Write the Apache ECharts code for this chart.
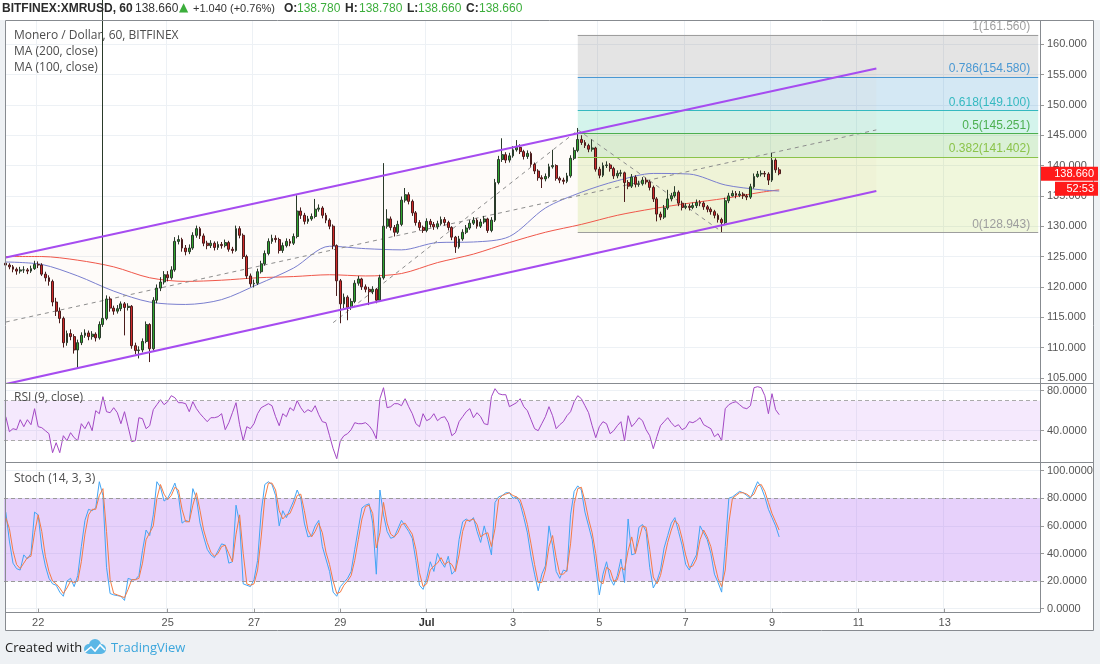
<!DOCTYPE html>
<html><head><meta charset="utf-8">
<script src="https://cdn.jsdelivr.net/npm/echarts@6/dist/echarts.min.js"></script>
<style>html,body{margin:0;padding:0;background:#eef1f4;overflow:hidden}#c{width:1100px;height:664px}</style>
</head><body><div id="c"></div>
<script>
// ---------- data ----------
const startTime = Date.UTC(2018, 5, 21, 6, 0);   // first 2h slot
const slotCount = 288;
const tickDates  = ['06-22','06-25','06-27','06-29','07-01','07-03','07-05','07-07','07-09','07-11','07-13'];
const tickLabels = ['22','25','27','29','Jul','3','5','7','9','11','13'];

const opens = [123.9,123.6,123.3,122.9,122.6,122.8,122.8,122.6,123.0,123.7,
123.6,122.1,121.5,120.9,117.5,116.0,114.8,110.8,112.3,111.8,
109.6,110.8,112.0,112.4,111.8,112.2,111.6,113.8,114.8,118.0,
116.5,116.0,116.4,117.2,116.6,116.8,110.3,109.5,109.6,111.0,
113.8,109.8,117.8,119.8,120.8,122.0,121.5,122.8,127.5,127.8,
126.4,125.8,126.4,128.5,129.6,128.4,127.2,126.8,127.2,126.5,
127.0,126.8,127.3,126.2,126.0,129.6,128.5,125.0,121.8,120.5,
120.6,122.5,123.8,125.5,127.5,128.0,127.8,126.0,126.8,127.5,
127.2,128.3,132.5,131.8,130.8,131.2,131.6,132.8,133.0,131.8,
131.0,130.0,126.8,121.0,117.2,118.3,116.6,117.6,120.6,121.3,
120.0,119.6,119.2,119.6,117.8,121.5,130.0,131.2,129.8,129.0,
130.3,134.3,135.2,134.1,132.2,130.6,129.8,129.3,130.8,130.3,
129.9,130.4,131.1,130.6,129.8,128.2,126.6,127.9,129.0,129.7,
130.5,131.0,130.0,130.7,131.2,129.3,131.0,137.2,141.0,141.8,
140.9,141.6,142.6,143.0,142.3,141.5,142.0,140.2,139.1,138.0,
137.8,138.2,139.8,140.0,137.9,137.6,137.4,138.3,141.2,142.5,
144.3,143.8,143.3,142.7,142.9,139.4,138.4,140.0,140.1,139.5,
138.3,138.7,138.8,137.2,136.6,138.1,136.9,137.0,137.6,137.3,
136.4,134.5,132.0,131.5,133.0,134.5,135.0,135.6,133.8,133.1,
133.3,133.1,133.4,133.9,133.8,133.2,132.8,132.4,131.8,131.1,
130.6,134.2,135.0,135.4,135.1,135.3,135.0,134.8,136.5,138.2,
138.6,138.7,138.6,137.6,140.9,139.3];
const closes = [123.6,123.3,122.9,122.6,122.8,122.8,122.6,123.0,123.7,123.6,
122.1,121.5,120.9,117.5,116.0,114.8,110.8,112.3,111.8,109.6,
110.8,112.0,112.4,111.8,112.2,111.6,113.8,114.8,118.0,116.5,
116.0,116.4,117.2,116.6,116.8,110.3,109.5,109.6,111.0,113.8,
109.8,117.8,119.8,120.8,122.0,121.5,122.8,127.5,127.8,126.4,
125.8,126.4,128.5,129.6,128.4,127.2,126.8,127.2,126.5,127.0,
126.8,127.3,126.2,126.0,129.6,128.5,125.0,121.8,120.5,120.6,
122.5,123.8,125.5,127.5,128.0,127.8,126.0,126.8,127.5,127.2,
128.3,132.5,131.8,130.8,131.2,131.6,132.8,133.0,131.8,131.0,
130.0,126.8,121.0,117.2,118.3,116.6,117.6,120.6,121.3,120.0,
119.6,119.2,119.6,117.8,121.5,130.0,131.2,129.8,129.0,130.3,
134.3,135.2,134.1,132.2,130.6,129.8,129.3,130.8,130.3,129.9,
130.4,131.1,130.6,129.8,128.2,126.6,127.9,129.0,129.7,130.5,
131.0,130.0,130.7,131.2,129.3,131.0,137.2,141.0,141.8,140.9,
141.6,142.6,143.0,142.3,141.5,142.0,140.2,139.1,138.0,137.8,
138.2,139.8,140.0,137.9,137.6,137.4,138.3,141.2,142.5,144.3,
143.8,143.3,142.7,142.9,139.4,138.4,140.0,140.1,139.5,138.3,
138.7,138.8,137.2,136.6,138.1,136.9,137.0,137.6,137.3,136.4,
134.5,132.0,131.5,133.0,134.5,135.0,135.6,133.8,133.1,133.3,
133.1,133.4,133.9,133.8,133.2,132.8,132.4,131.8,131.1,130.6,
134.2,135.0,135.4,135.1,135.3,135.0,134.8,136.5,138.2,138.6,
138.7,138.6,137.6,140.9,139.3,138.66];
const highs = [124.3,123.9,123.6,123.2,123.3,123.4,123.1,123.5,124.3,124.2,
123.9,122.5,121.9,121.2,118.2,116.6,115.1,112.8,113.0,112.2,
111.3,112.5,113.0,112.8,112.7,112.5,114.3,175.0,118.6,118.4,
116.9,117.0,117.6,117.5,117.3,117.0,110.8,110.2,111.5,114.3,
114.0,118.3,120.4,121.6,122.6,122.6,123.4,128.2,128.5,128.1,
126.9,127.0,129.0,130.1,129.9,128.8,127.6,127.7,127.5,127.5,
127.4,127.8,127.6,126.6,130.1,130.0,128.8,125.3,122.2,121.2,
123.0,124.3,126.0,128.0,128.6,128.5,128.1,127.3,128.0,127.9,
128.8,135.1,133.1,132.2,131.7,132.1,134.5,133.6,133.3,132.2,
131.3,130.3,127.0,121.3,118.9,118.6,118.1,121.1,121.8,121.5,
120.4,120.0,120.1,119.8,122.0,140.4,132.8,131.6,130.2,130.9,
134.9,136.3,135.6,134.4,132.5,131.0,130.1,131.3,131.2,130.7,
130.9,131.6,131.5,130.9,130.0,128.4,128.4,129.5,130.2,131.0,
131.5,131.3,131.2,131.7,131.4,131.5,137.8,141.6,144.5,142.2,
142.1,143.2,144.2,143.5,142.6,142.5,142.3,140.5,139.4,138.4,
138.7,140.3,142.6,140.2,138.2,138.0,138.8,141.7,143.0,146.2,
145.0,144.2,143.6,144.3,143.1,139.8,140.5,140.7,140.4,139.8,
139.2,139.3,139.0,137.6,138.6,138.4,137.5,138.1,138.0,137.6,
136.7,134.8,132.4,133.5,136.0,135.5,136.6,135.9,134.2,133.8,
133.7,133.9,134.4,134.3,134.1,133.5,133.1,132.7,132.1,131.4,
134.7,135.5,135.9,135.8,135.8,135.6,135.3,137.0,138.7,139.1,
139.2,139.1,138.9,142.1,141.2,139.7];
const lows = [123.2,122.9,122.4,122.0,122.2,122.3,122.1,122.3,122.8,123.1,
121.8,120.9,120.2,116.8,115.2,114.0,110.0,110.3,111.2,109.0,
106.6,110.4,111.6,111.2,111.3,111.0,111.3,113.4,114.5,115.9,
115.4,115.6,116.0,112.0,116.1,109.8,108.9,108.2,109.2,110.7,
107.6,109.5,117.3,119.3,120.4,120.9,121.2,122.5,127.0,125.8,
125.2,125.4,126.1,128.1,127.9,126.7,126.2,126.4,126.0,126.1,
126.3,126.5,125.8,125.5,125.8,128.0,124.6,121.3,120.0,119.9,
120.3,122.2,123.5,125.2,127.1,127.3,125.5,125.6,126.5,126.7,
126.9,128.0,131.2,130.3,130.4,130.9,131.3,132.4,131.3,130.5,
129.5,126.2,118.5,114.0,116.5,114.5,116.2,117.3,120.2,119.5,
119.1,117.0,118.8,117.3,117.5,121.2,129.6,129.3,128.3,128.7,
130.0,133.9,133.6,131.7,130.1,129.3,128.9,129.0,129.8,129.4,
129.5,130.1,130.1,129.3,127.7,125.6,126.3,127.6,128.7,129.4,
130.2,129.6,129.7,130.4,128.9,129.0,130.7,136.9,140.6,140.4,
140.5,141.3,142.3,141.9,141.0,141.1,139.8,138.6,137.5,136.3,
137.4,137.9,139.5,137.5,137.1,136.9,137.1,138.0,140.9,142.2,
143.4,142.9,142.2,142.3,139.0,137.9,138.1,139.6,139.0,137.8,
137.9,138.2,134.0,136.1,136.3,136.4,136.5,136.7,136.9,135.9,
134.0,130.8,131.0,131.2,132.7,134.1,134.7,133.3,132.6,132.8,
132.6,132.8,133.0,133.3,132.7,132.3,131.9,131.3,130.6,129.0,
130.3,133.8,134.9,134.6,134.8,134.5,134.3,134.5,136.2,138.0,
138.2,138.1,136.8,137.3,138.8,138.4];

// moving averages read every 10 slots
const maSlots = [0,10,20,30,40,50,60,70,80,90,100,110,120,130,140,150,160,170,180,190,200,210,215];
const ma200 = [125.0,125.0,124.4,123.3,121.5,120.9,121.1,121.5,121.7,122.0,121.8,122.2,124.0,125.4,127.3,129.0,130.3,131.8,132.9,133.8,134.6,135.6,136.0];
const ma100 = [124.1,123.7,121.8,119.3,117.5,117.1,117.9,120.4,123.1,126.7,126.3,126.1,127.3,127.4,128.3,133.0,135.6,137.5,138.7,138.6,136.8,136.0,135.8];

const rsi = [54,39,42,41,51,44,51,46,62,44,
43,40,37,18,28,18,35,30,38,33,
30,47,42,49,40,60,57,74,59,58,
63,58,47,59,44,29,30,53,52,42,
45,61,66,71,66,69,75,73,68,68,
67,59,69,62,57,53,49,53,53,54,
57,41,48,58,68,46,30,44,42,47,
57,63,65,67,65,54,45,57,54,63,
60,70,63,58,61,59,65,56,49,48,
35,22,12,30,35,37,41,48,47,47,
48,45,40,32,72,83,63,64,67,67,
65,72,64,57,47,44,57,50,52,57,
50,53,54,48,35,38,49,54,59,62,
53,58,54,47,46,74,82,77,76,76,
64,66,68,72,64,60,51,42,40,47,
54,64,55,42,46,49,55,59,69,75,
72,65,58,45,33,44,49,47,37,40,
45,49,30,55,44,48,53,50,41,35,
22,34,45,49,53,48,44,46,41,43,
49,48,50,53,46,44,42,34,37,30,
62,66,68,69,66,63,62,65,83,84,
83,75,57,77,61,56];
const stochK = [70,49,33,29,28,39,36,40,70,68,
44,31,22,18,17,12,9,20,22,16,
24,45,64,72,71,73,92,82,30,11,
10,9.5,9,6,22,21,21,24,42,57,
53,68,92,88,78,80,85,91,82,62,
64,63,87,80,62,52,43,39,37,42,
47,46,33,34,75,62,18,17,16,21,
35,70,90,92,90,82,60,71,66,72,
78,86,80,62,52,53,60,64,45,36,
27,12,9,16,19,22,27,43,58,73,
75,76,62,25,86,68,56,51,52,58,
64,60,56,51,35,17,14,22,34,27,
40,34,30,38,25,28,50,63,65,63,
66,56,48,60,50,39,77,81,82,84,
84,80,81,76,66,55,38,25,13,25,
31,60,46,27,22,28,27,68,85,89,
86,70,60,50,30,10,25,34,22,17,
24,36,19,65,39,40,59,61,56,30,
15,20,28,44,53,62,66,56,46,32,
28,34,39,60,55,50,40,25,19,12,
45,80,81,83,85,84,82,80,86,92,
88,81,72,66,60,52];
const stochD = [66,58,42,32,29,33,37,38,55,68,
56,38,27,20,18,15,11,15,20,19,
20,34,54,68,72,72,82,87,56,21,
11,10,9,8,14,21,21,22,33,50,
55,60,80,90,83,79,82,88,86,72,
63,63,75,84,71,57,48,41,38,40,
45,46,40,34,54,68,40,18,17,18,
28,52,80,91,91,86,71,65,68,69,
75,82,83,71,57,52,56,62,55,41,
32,20,11,12,17,20,24,35,50,65,
74,75,69,44,55,77,62,54,52,55,
61,62,58,54,43,26,16,18,28,31,
33,37,32,34,32,27,39,56,64,64,
65,61,52,54,55,45,58,79,82,83,
84,82,81,79,71,61,47,32,19,19,
28,45,53,37,25,25,28,47,76,87,
88,78,65,55,40,20,18,30,28,20,
21,30,28,42,52,40,50,60,59,43,
23,18,24,36,48,57,64,61,51,39,
30,31,36,50,57,52,45,33,22,16,
28,62,80,82,84,84,83,81,83,89,
90,85,77,69,63,57];

const priceTicks = [105,110,115,120,125,130,135,140,145,150,155,160];
const rsiTicks = [40,80];
const stochTicks = [0,20,40,60,80,100];

// drawings (slot, price)
const channelUpper = [[0,124.83],[242,156.0]];
const channelLower = [[0,103.97],[242,135.79]];
const trendDash1 = [[0,114.2],[242,145.88]];
const trendDash2 = [[91,114.1],[159,145.8]];
const trendDash3 = [[159,145.9],[199,129.1]];
const fibStart = 159, fibEnd = 287;
const fibRatios = ['1','0.786','0.618','0.5','0.382','0'];
const fibLevels = [161.560,154.580,149.100,145.251,141.402,128.943];
const lastPrice = 138.660;
const countdown = '52:53';
const header = { symbol: 'BITFINEX:XMRUSD, 60', last: '138.660', change: '+1.040 (+0.76%)',
  ohlc: [['O:','138.780'],['H:','138.780'],['L:','138.660'],['C:','138.660']] };

// ---------- build ----------
const categories = [];
for (let i = 0; i < slotCount; i++) {
  const d = new Date(startTime + i * 7200000);
  const p = n => String(n).padStart(2, '0');
  categories.push(p(d.getUTCMonth() + 1) + '-' + p(d.getUTCDate()) + ' ' + p(d.getUTCHours()) + ':00');
}
const tickMap = {};
tickDates.forEach((td, k) => { const idx = categories.indexOf(td + ' 00:00'); if (idx >= 0) tickMap[idx] = tickLabels[k]; });
const isTick = idx => tickMap[idx] !== undefined;

const candleData = opens.map((o, i) => [o, closes[i], lows[i], highs[i]]);
const fibLineColors = ['#9e9e9e','#4a98d3','#35b9c0','#4caf50','#8bc34a','#9e9e9e'];
const fibFill = ['rgba(120,120,120,0.20)','rgba(40,140,200,0.20)','rgba(40,200,160,0.20)','rgba(70,180,50,0.20)','rgba(170,210,60,0.18)'];

const FONT = 'Liberation Sans';
const gridLineColor = '#edf1f5';

const xAxes = [0,1,2].map(g => ({
  type: 'category', gridIndex: g, data: categories, boundaryGap: true,
  axisLine: { show: false },
  axisTick: { show: g === 2, interval: isTick, alignWithLabel: true, length: 4, lineStyle: { color: '#999' } },
  axisLabel: { show: g === 2, interval: isTick, margin: 5, color: '#555', fontSize: 11, fontFamily: FONT,
    formatter: (v, idx) => tickMap[idx] === 'Jul' ? '{b|Jul}' : (tickMap[idx] || ''),
    rich: { b: { fontWeight: 'bold', color: '#333', fontSize: 11, fontFamily: FONT } } },
  splitLine: { show: true, interval: isTick, lineStyle: { color: gridLineColor } }
}));

function yAx(g, min, max, ticks, dec) {
  return {
    type: 'value', gridIndex: g, position: 'right', min: min, max: max,
    axisLine: { show: false },
    axisTick: { show: true, customValues: ticks, length: 4, lineStyle: { color: '#999' } },
    axisLabel: { customValues: ticks, formatter: v => v.toFixed(dec), color: '#555', fontSize: 11, fontFamily: FONT, margin: 7 },
    splitLine: { show: true, lineStyle: { color: gridLineColor } }
  };
}

const fibAreas = [];
for (let i = 0; i < 5; i++) {
  fibAreas.push([{ xAxis: fibStart, yAxis: fibLevels[i], itemStyle: { color: fibFill[i] } }, { xAxis: fibEnd, yAxis: fibLevels[i + 1] }]);
}
const fibLines = fibLevels.map((lv, i) => [
  { xAxis: fibStart, yAxis: lv, lineStyle: { color: fibLineColors[i], width: 1, type: 'solid' },
    label: { show: true, position: 'insideEndTop', formatter: fibRatios[i] + '(' + lv.toFixed(3) + ')', color: fibLineColors[i], fontSize: 12, fontFamily: FONT, distance: [8, 2] } },
  { xAxis: fibEnd, yAxis: lv }
]);

const purple = '#a64cf0';
const series = [
  { type: 'line', xAxisIndex: 0, yAxisIndex: 0, data: [[fibStart, fibLevels[5]]], symbol: 'none', z: 1, silent: true,
    lineStyle: { opacity: 0 },
    markArea: { silent: true, data: fibAreas },
    markLine: { silent: true, symbol: ['none','none'], data: fibLines } },
  { type: 'line', xAxisIndex: 0, yAxisIndex: 0, stack: 'chan', data: channelLower, symbol: 'none', lineStyle: { opacity: 0 }, z: 1, silent: true },
  { type: 'line', xAxisIndex: 0, yAxisIndex: 0, stack: 'chan', data: channelUpper.map((p, i) => [p[0], p[1] - channelLower[i][1]]),
    symbol: 'none', lineStyle: { opacity: 0 }, areaStyle: { color: 'rgba(240,180,150,0.08)' }, z: 1, silent: true },
  { type: 'line', xAxisIndex: 0, yAxisIndex: 0, data: ma200.map((v, i) => [maSlots[i], v]), smooth: 0.3, symbol: 'none', lineStyle: { color: '#f0574a', width: 1 }, z: 3 },
  { type: 'line', xAxisIndex: 0, yAxisIndex: 0, data: ma100.map((v, i) => [maSlots[i], v]), smooth: 0.3, symbol: 'none', lineStyle: { color: '#7a7fcf', width: 1 }, z: 3 },
  { type: 'line', xAxisIndex: 0, yAxisIndex: 0, data: trendDash1, symbol: 'none', lineStyle: { color: '#8d8d8d', width: 1, type: [4, 4] }, z: 3 },
  { type: 'line', xAxisIndex: 0, yAxisIndex: 0, data: trendDash2, symbol: 'none', lineStyle: { color: '#8d8d8d', width: 1, type: [4, 4] }, z: 3 },
  { type: 'line', xAxisIndex: 0, yAxisIndex: 0, data: trendDash3, symbol: 'none', lineStyle: { color: '#8d8d8d', width: 1, type: [4, 4] }, z: 3 },
  { type: 'candlestick', xAxisIndex: 0, yAxisIndex: 0, data: candleData, barWidth: '66%', clip: true, z: 4,
    itemStyle: { color: '#2fa52f', color0: '#d02a2a', borderColor: '#2a3a2a', borderColor0: '#4a1c1c', borderWidth: 1 } },
  { type: 'line', xAxisIndex: 0, yAxisIndex: 0, data: channelUpper, symbol: 'none', lineStyle: { color: purple, width: 2 }, z: 5 },
  { type: 'line', xAxisIndex: 0, yAxisIndex: 0, data: channelLower, symbol: 'none', lineStyle: { color: purple, width: 2 }, z: 5 },
  // RSI
  { type: 'line', xAxisIndex: 1, yAxisIndex: 1, data: rsi, symbol: 'none', lineStyle: { color: '#a348c4', width: 1 }, z: 3,
    markArea: { silent: true, itemStyle: { color: 'rgba(190,120,240,0.16)' }, data: [[{ yAxis: 30 }, { yAxis: 70 }]] },
    markLine: { silent: true, symbol: ['none','none'], label: { show: false }, lineStyle: { color: '#aaa', type: [4, 3], width: 1 }, data: [{ yAxis: 70 }, { yAxis: 30 }] } },
  // Stoch
  { type: 'line', xAxisIndex: 2, yAxisIndex: 2, data: stochK, symbol: 'none', lineStyle: { color: '#42a5f5', width: 1 }, z: 3,
    markArea: { silent: true, itemStyle: { color: 'rgba(170,90,240,0.28)' }, data: [[{ yAxis: 20 }, { yAxis: 80 }]] },
    markLine: { silent: true, symbol: ['none','none'], label: { show: false }, lineStyle: { color: '#999', type: [4, 3], width: 1 }, data: [{ yAxis: 80 }, { yAxis: 20 }] } },
  { type: 'line', xAxisIndex: 2, yAxisIndex: 2, data: stochD, symbol: 'none', lineStyle: { color: '#f57b45', width: 1 }, z: 3 }
];

const frameColor = '#878b90';
const txt = (x, y, text, fill, font) => ({ type: 'text', x: x, y: y, z: 60, silent: true,
  style: { text: text, fill: fill, font: font, verticalAlign: 'middle' } });
const HF = '12px "' + FONT + '"', HB = 'bold 12px "' + FONT + '"', HS = '11px "' + FONT + '"';
const graphic = [
  { type: 'rect', shape: { x: 0, y: 0, width: 1100, height: 20 }, style: { fill: '#ffffff' }, z: -10, silent: true },
  { type: 'rect', shape: { x: 5, y: 20, width: 1088, height: 610 }, style: { fill: '#ffffff' }, z: -10, silent: true },
  { type: 'rect', shape: { x: 5.5, y: 20.5, width: 1088, height: 610 }, style: { fill: 'none', stroke: frameColor, lineWidth: 1 }, z: 50, silent: true },
  { type: 'line', shape: { x1: 1040.5, y1: 20, x2: 1040.5, y2: 612 }, style: { stroke: frameColor, lineWidth: 1 }, z: 50, silent: true },
  { type: 'line', shape: { x1: 5, y1: 383.5, x2: 1093, y2: 383.5 }, style: { stroke: frameColor, lineWidth: 1 }, z: 50, silent: true },
  { type: 'line', shape: { x1: 5, y1: 462.5, x2: 1093, y2: 462.5 }, style: { stroke: frameColor, lineWidth: 1 }, z: 50, silent: true },
  { type: 'line', shape: { x1: 5, y1: 612.5, x2: 1040.5, y2: 612.5 }, style: { stroke: frameColor, lineWidth: 1 }, z: 50, silent: true },
  txt(2, 9, header.symbol, '#2b2b2b', HB),
  txt(135, 9, header.last, '#333', HF),
  txt(179, 8, '▲', '#3cae3c', '12px "DejaVu Sans"'),
  txt(193, 9, header.change, '#333', HS),
  txt(284, 9, header.ohlc[0][0], '#2b2b2b', HB),
  txt(297, 9, header.ohlc[0][1], '#3cae3c', HF),
  txt(345, 9, header.ohlc[1][0], '#2b2b2b', HB),
  txt(359, 9, header.ohlc[1][1], '#3cae3c', HF),
  txt(407, 9, header.ohlc[2][0], '#2b2b2b', HB),
  txt(418, 9, header.ohlc[2][1], '#3cae3c', HF),
  txt(466, 9, header.ohlc[3][0], '#2b2b2b', HB),
  txt(479, 9, header.ohlc[3][1], '#3cae3c', HF),
  txt(14, 36, 'Monero / Dollar, 60, BITFINEX', '#4d4d4d', '12px "Open Sans"'),
  txt(14, 52, 'MA (200, close)', '#4d4d4d', '12px "Open Sans"'),
  txt(14, 68, 'MA (100, close)', '#4d4d4d', '12px "Open Sans"'),
  txt(14, 398, 'RSI (9, close)', '#4d4d4d', '12px "Open Sans"'),
  txt(14, 479, 'Stoch (14, 3, 3)', '#4d4d4d', '12px "Open Sans"'),
  txt(5, 648, 'Created with', '#222', '13px "Open Sans"'),
  { type: 'group', x: 83, y: 639, z: 60, silent: true, children: [
      { type: 'circle', shape: { cx: 6, cy: 10, r: 5 }, style: { fill: '#5ab7e6' } },
      { type: 'circle', shape: { cx: 12, cy: 6, r: 6 }, style: { fill: '#5ab7e6' } },
      { type: 'circle', shape: { cx: 18, cy: 10, r: 5 }, style: { fill: '#5ab7e6' } },
      { type: 'rect', shape: { x: 6, y: 8, width: 12, height: 7 }, style: { fill: '#5ab7e6' } },
      { type: 'polyline', shape: { points: [[2,13],[8,8],[12,12],[17,6],[22,11]] }, style: { stroke: '#ffffff', lineWidth: 1.6, fill: 'none' } }
  ] },
  txt(111, 648, 'TradingView', '#3ba6dc', '13px "Open Sans"')
];

const option = {
  animation: false,
  backgroundColor: 'transparent',
  grid: [
    { left: 4, right: 60, top: 20, height: 363 },
    { left: 4, right: 60, top: 383, height: 79 },
    { left: 4, right: 60, top: 462, height: 150 }
  ],
  xAxis: xAxes,
  yAxis: [yAx(0, 104.15, 164, priceTicks, 3), yAx(1, 8.7, 87.7, rsiTicks, 4), yAx(2, -2.4, 106.3, stochTicks, 4)],
  series: series,
  graphic: graphic
};

const chart = echarts.init(document.getElementById('c'), null, { renderer: 'canvas', width: 1100, height: 664 });
chart.setOption(option);

// last price tag placed through the price scale
const py = chart.convertToPixel({ yAxisIndex: 0 }, lastPrice);
chart.setOption({ graphic: graphic.concat([
  { type: 'rect', shape: { x: 1041, y: py - 7, width: 57, height: 14 }, style: { fill: '#ff1a1a' }, z: 70, silent: true },
  { type: 'text', x: 1094, y: py, z: 71, silent: true, style: { text: lastPrice.toFixed(3), fill: '#fff', font: '11px "' + FONT + '"', align: 'right', verticalAlign: 'middle' } },
  { type: 'rect', shape: { x: 1055, y: py + 8, width: 43, height: 14 }, style: { fill: '#ff1a1a' }, z: 70, silent: true },
  { type: 'text', x: 1094, y: py + 15, z: 71, silent: true, style: { text: countdown, fill: '#fff', font: '11px "' + FONT + '"', align: 'right', verticalAlign: 'middle' } }
]) });
</script></body></html>
